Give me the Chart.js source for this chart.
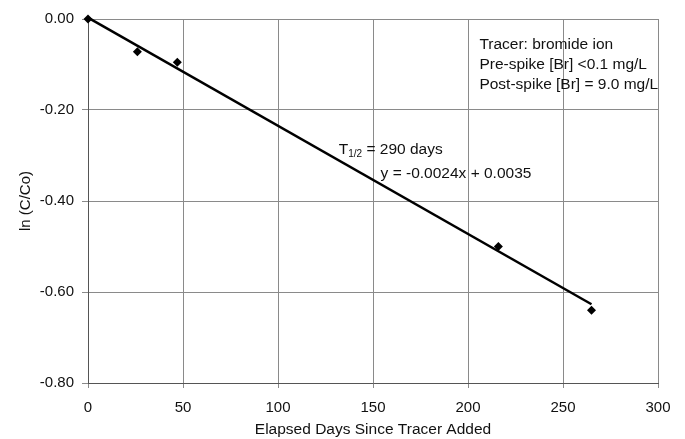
<!DOCTYPE html>
<html>
<head>
<meta charset="utf-8">
<script src="https://cdn.jsdelivr.net/npm/chart.js@4"></script>
<style>
    html, body { margin: 0; padding: 0; background: #fff; }
    #wrap { width: 685px; height: 439px; }
</style>
</head>
<body>
<div id="wrap"><canvas id="tracer-chart" width="685" height="439"></canvas></div>
<script>
// measured points: elapsed days vs ln(C/Co)
const elapsedDays = [0, 26, 47, 216, 265];
const lnRatio = [0.00, -0.072, -0.095, -0.50, -0.64];

// fitted line endpoints
const trendDays = [0, 265];
const trendValues = [0.003, -0.627];

const xTicks = [0, 50, 100, 150, 200, 250, 300];
const yTicks = [0.00, -0.20, -0.40, -0.60, -0.80];

const noteLines = ['Tracer: bromide ion', 'Pre-spike [Br] <0.1 mg/L', 'Post-spike [Br] = 9.0 mg/L'];

const FONT = "'Liberation Sans', Arial, sans-serif";

// draws the text notes inside the plot
const notesPlugin = {
    id: 'notes',
    afterDatasetsDraw(chart) {
        const ctx = chart.ctx;
        const x = chart.scales.x;
        const y = chart.scales.y;
        ctx.save();
        ctx.fillStyle = '#111';
        ctx.textBaseline = 'middle';
        ctx.font = '15.5px ' + FONT;

        let left = x.getPixelForValue(206);
        let top = y.getPixelForValue(-0.057);
        noteLines.forEach((line, i) => {
            ctx.fillText(line, left, top + i * 20);
        });

        // T1/2 with subscript
        let tx = x.getPixelForValue(132);
        let ty = y.getPixelForValue(-0.288);
        ctx.fillText('T', tx, ty);
        let w = ctx.measureText('T').width;
        ctx.font = '10px ' + FONT;
        ctx.fillText('1/2', tx + w, ty + 4);
        let w2 = ctx.measureText('1/2').width;
        ctx.font = '15.5px ' + FONT;
        ctx.fillText(' = 290 days', tx + w + w2, ty);

        ctx.fillText('y = -0.0024x + 0.0035', x.getPixelForValue(154), y.getPixelForValue(-0.341));
        ctx.restore();
    }
};

const ctx = document.getElementById('tracer-chart').getContext('2d');

new Chart(ctx, {
    type: 'scatter',
    data: {
        datasets: [{
            label: 'ln (C/Co)',
            data: elapsedDays.map((d, i) => ({ x: d, y: lnRatio[i] })),
            pointStyle: 'rectRot',
            pointRadius: 4.5,
            backgroundColor: '#000',
            borderColor: '#000',
            borderWidth: 0,
            clip: false,
            order: 1
        }, {
            label: 'Linear fit',
            type: 'line',
            data: trendDays.map((d, i) => ({ x: d, y: trendValues[i] })),
            borderColor: '#000',
            borderWidth: 2.5,
            pointRadius: 0,
            fill: false,
            clip: false,
            order: 2
        }]
    },
    options: {
        responsive: false,
        animation: false,
        layout: {
            padding: { top: 19, right: 27, left: 0, bottom: 0 }
        },
        scales: {
            x: {
                type: 'linear',
                min: 0,
                max: 300,
                afterBuildTicks: s => { s.ticks = xTicks.map(v => ({ value: v })); },
                afterFit: s => { s.height = 56; },
                grid: { color: '#8a8a8a', lineWidth: 1, tickLength: 5 },
                border: { color: '#555', width: 1 },
                ticks: {
                    color: '#111',
                    padding: 11,
                    maxRotation: 0,
                    autoSkip: false,
                    font: { family: FONT, size: 15 }
                },
                title: {
                    display: true,
                    text: 'Elapsed Days Since Tracer Added',
                    color: '#111',
                    padding: { top: 2, bottom: 0 },
                    font: { family: FONT, size: 15.5 }
                }
            },
            y: {
                type: 'linear',
                min: -0.8,
                max: 0,
                afterBuildTicks: s => { s.ticks = yTicks.map(v => ({ value: v })); },
                afterFit: s => { s.width = 88; },
                grid: { color: '#8a8a8a', lineWidth: 1, tickLength: 6 },
                border: { color: '#555', width: 1 },
                ticks: {
                    color: '#111',
                    padding: 8,
                    autoSkip: false,
                    font: { family: FONT, size: 15 },
                    callback: v => v.toFixed(2)
                },
                title: {
                    display: true,
                    text: 'ln (C/Co)',
                    color: '#111',
                    padding: { bottom: 0, top: 17 },
                    font: { family: FONT, size: 15 }
                }
            }
        },
        plugins: {
            legend: { display: false },
            tooltip: { enabled: false }
        }
    },
    plugins: [notesPlugin]
});
</script>
</body>
</html>
